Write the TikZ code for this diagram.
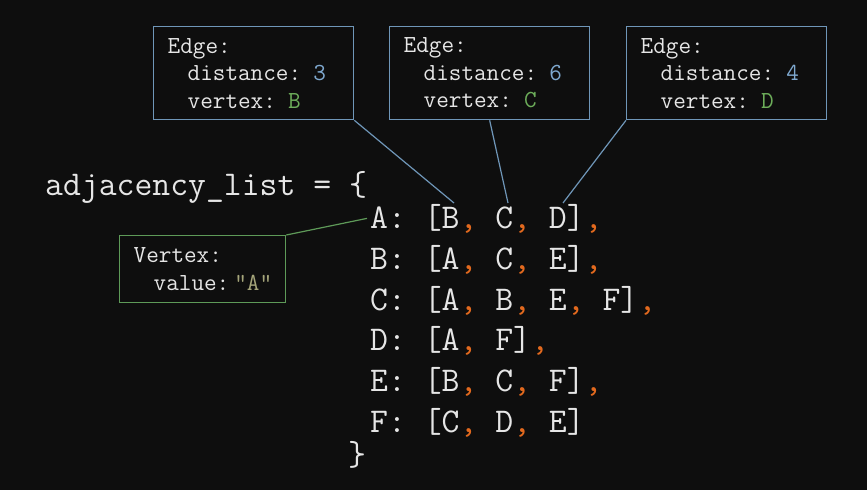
\documentclass[tikz,border=0pt]{standalone}
\usepackage{fontspec}
\usepackage{xcolor}
\usetikzlibrary{positioning,calc}

\definecolor{bgcol}{HTML}{0E0E0E}
\definecolor{txtcol}{HTML}{E6E6E6}
\definecolor{edgeline}{HTML}{6F96B8}
\definecolor{vertline}{HTML}{5E9A58}
\definecolor{numcol}{HTML}{7FA9D0}
\definecolor{vtxcol}{HTML}{6DAE5A}
\definecolor{strcol}{HTML}{A5A57A}
\definecolor{commacol}{HTML}{E2691E}

\newcommand{\cm}{{\color{commacol},}}
\newcommand{\ind}{\hspace*{20pt}}

\tikzset{
  code/.style={font=\ttfamily\fontsize{34.7}{40}\selectfont, text=txtcol, inner sep=0pt, anchor=base west},
  edgebox/.style={draw=edgeline, line width=1.3pt, anchor=north west, minimum width=200pt, minimum height=93pt,
    text width=172pt, inner xsep=14pt, align=left, text=txtcol, font=\ttfamily\fontsize{24.5}{27.5}\selectfont},
  vertbox/.style={draw=vertline, line width=1.3pt, anchor=north west, minimum width=166pt, minimum height=67pt,
    text width=138pt, inner xsep=14pt, align=left, text=txtcol, font=\ttfamily\fontsize{24.5}{28}\selectfont},
  link/.style={draw=edgeline, line width=1.2pt},
  vlink/.style={draw=vertline, line width=1.2pt}
}

\begin{document}
\begin{tikzpicture}[x=1pt, y=-1pt]
\fill[bgcol] (0,0) rectangle (867,490);
\useasboundingbox (0,0) rectangle (867,490);

% the dictionary
\node[code] (head) at (45,195) {adjacency\_list = \{};
\node[code] (rowA) at (370,228) {A: [B\cm{} C\cm{} D]\cm};
\node[code] (rowB) at (370,269) {B: [A\cm{} C\cm{} E]\cm};
\node[code] (rowC) at (370,310) {C: [A\cm{} B\cm{} E\cm{} F]\cm};
\node[code] (rowD) at (370,350) {D: [A\cm{} F]\cm};
\node[code] (rowE) at (370,391) {E: [B\cm{} C\cm{} F]\cm};
\node[code] (rowF) at (370,432) {F: [C\cm{} D\cm{} E]};
\node[code] (tail) at (348,465) {\}};

% edge objects
\node[edgebox] (edgeB) at (153,26) {Edge:\\\ind distance: {\color{numcol}3}\\\ind vertex: {\color{vtxcol}B}};
\node[edgebox] (edgeC) at (389,26) {Edge:\\\ind distance: {\color{numcol}6}\\\ind vertex: {\color{vtxcol}C}};
\node[edgebox] (edgeD) at (626,26) {Edge:\\\ind distance: {\color{numcol}4}\\\ind vertex: {\color{vtxcol}D}};

% vertex object
\node[vertbox] (vertA) at (119,235) {Vertex:\\\ind value:\hspace*{5pt}{\color{strcol}"A"}};

% where the links end
\coordinate (tipB) at ([xshift=84pt,yshift=25pt]rowA.base west);
\coordinate (tipC) at ([xshift=138pt,yshift=25pt]rowA.base west);
\coordinate (tipD) at ([xshift=193pt,yshift=25pt]rowA.base west);
\coordinate (tipA) at ([xshift=-3pt]rowA.west);

\draw[link] (edgeB.south east) -- (tipB);
\draw[link] (edgeC.south) -- (tipC);
\draw[link] (edgeD.south west) -- (tipD);
\draw[vlink] (vertA.north east) -- (tipA);

\end{tikzpicture}
\end{document}
